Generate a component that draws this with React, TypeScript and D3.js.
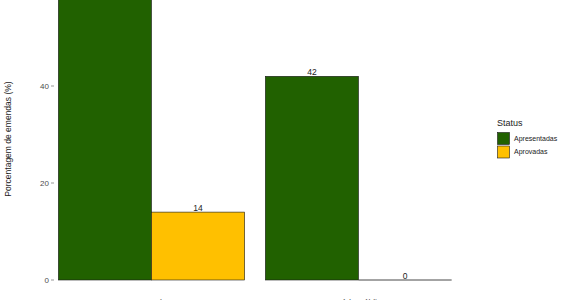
import React from "react";
import * as d3 from "d3";

const categories = ["Geral", "Saúde Pública"];
const statuses = ["Apresentadas", "Aprovadas"];
const apresentadas = [58, 42];
const aprovadas = [14, 0];
const yTicks = [0, 20, 40];
const colors = ["#216100", "#FFC000"];

const W = 566;
const H = 300;

export default function App() {
  const x = d3.scaleBand<string>().domain(categories).range([27.3, 482.7]).paddingInner(0.1).paddingOuter(0.15);
  const xi = d3.scaleBand<string>().domain(statuses).range([0, x.bandwidth()]);
  const y = d3.scaleLinear().domain([0, 40]).range([280, 86]);
  const series = [apresentadas, aprovadas];
  const font = "Liberation Sans, Arial, sans-serif";
  const bars: any[] = [];
  categories.forEach((c, ci) => {
    statuses.forEach((s, si) => {
      const v = series[si][ci];
      bars.push({ c, s, si, v, x0: (x(c) as number) + (xi(s) as number), w: xi.bandwidth() });
    });
  });
  return (
    <svg width={W} height={H} style={{ position: "absolute", left: 0, top: 0, display: "block" }} fontFamily={font}>
      <rect x={0} y={0} width={W} height={H} fill="#fff" />
      {yTicks.map((t) => (
        <g key={t}>
          <line x1={51} x2={54} y1={y(t)} y2={y(t)} stroke="#333" strokeWidth={0.5} />
          <text x={49} y={y(t)} dy="0.35em" textAnchor="end" fontSize={8} fill="#4d4d4d">{t}</text>
        </g>
      ))}
      <text transform={`translate(11,${139}) rotate(-90)`} textAnchor="middle" fontSize={8.5} fill="#222">
        Porcentagem de emendas (%)
      </text>
      {bars.map((b, i) => (
        <g key={i}>
          {b.v > 0 ? (
            <rect x={b.x0} y={y(b.v)} width={b.w} height={y(0) - y(b.v)} fill={colors[b.si]} stroke="#1a1a1a" strokeWidth={0.6} />
          ) : (
            <line x1={b.x0} x2={b.x0 + b.w} y1={y(0)} y2={y(0)} stroke="#1a1a1a" strokeWidth={0.8} />
          )}
          <text x={b.x0 + b.w / 2} y={y(b.v) - 1.5} textAnchor="middle" fontSize={8.5} fill="#222">{b.v}</text>
        </g>
      ))}
      {categories.map((c) => (
        <text key={c} x={(x(c) as number) + x.bandwidth() / 2} y={305.5} textAnchor="middle" fontSize={8.5} fill="#4d4d4d">{c}</text>
      ))}
      <text x={497} y={126} fontSize={9} fill="#222">Status</text>
      {statuses.map((s, i) => (
        <g key={s}>
          <rect x={497.5} y={132.5 + i * 13.5} width={12} height={12} fill={colors[i]} stroke="#1a1a1a" strokeWidth={0.6} />
          <text x={514} y={138.5 + i * 13.5} dy="0.35em" fontSize={7} fill="#222">{s}</text>
        </g>
      ))}
    </svg>
  );
}
